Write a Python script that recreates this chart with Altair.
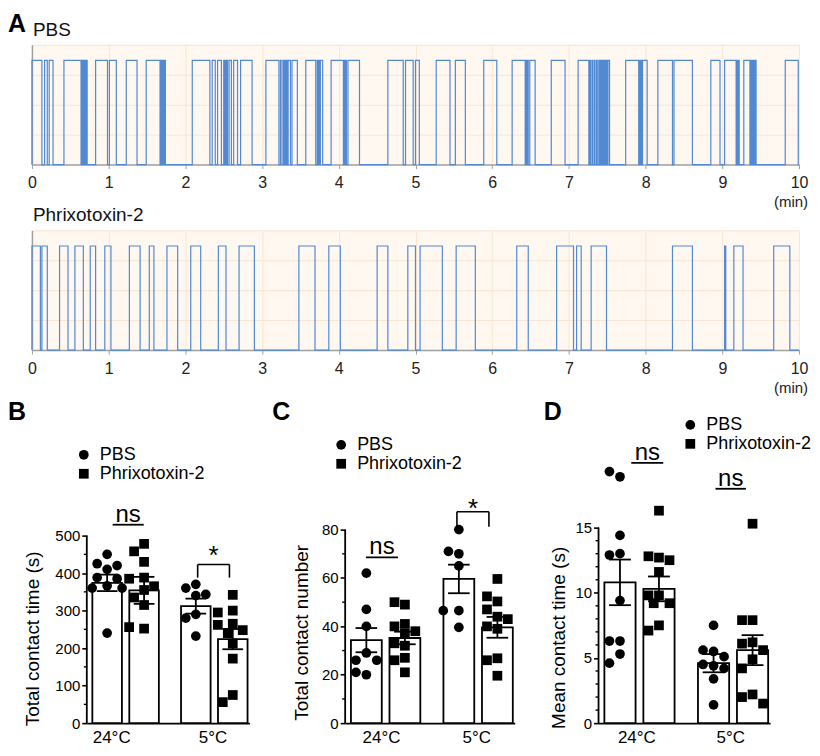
import altair as alt
import pandas as pd

FONT = "Liberation Sans"
TRACE_BLUE = "#5289D3"
GRID = "#FBE4D0"
BG = "#FFF8F1"
AXIS_GREY = "#A0A0A0"

# ---------------- Panel A: contact traces (start, end) in minutes ----------------
MINUTES = list(range(0, 11))
PBS_CONTACTS = [
    (0.00, 0.13), (0.165, 0.20), (0.225, 0.275), (0.417, 0.64),
    (0.645, 0.655), (0.665, 0.675), (0.685, 0.695), (0.70, 0.71), (0.713, 0.72),
    (0.83, 0.985), (1.01, 1.10), (1.23, 1.37), (1.49, 1.67),
    (1.675, 1.685), (1.695, 1.705), (1.715, 1.725), (1.73, 1.74),
    (2.09, 2.32), (2.35, 2.39), (2.42, 2.47), (2.50, 2.51), (2.52, 2.53), (2.54, 2.55),
    (2.57, 2.60), (2.63, 2.68), (2.72, 2.87),
    (3.05, 3.22), (3.24, 3.26), (3.28, 3.29), (3.30, 3.31), (3.32, 3.33), (3.34, 3.37), (3.39, 3.46),
    (3.57, 3.70), (3.72, 3.73), (3.74, 3.75), (3.76, 3.79),
    (3.90, 4.06), (4.07, 4.08), (4.09, 4.10), (4.12, 4.27),
    (4.64, 4.84), (4.87, 4.97), (5.00, 5.05),
    (5.27, 5.45), (5.52, 5.65), (5.89, 6.06),
    (6.26, 6.43), (6.44, 6.45), (6.46, 6.47), (6.49, 6.56),
    (6.77, 6.95), (7.12, 7.26), (7.27, 7.28), (7.30, 7.31), (7.33, 7.34), (7.36, 7.37),
    (7.39, 7.40), (7.405, 7.415), (7.42, 7.43), (7.435, 7.445), (7.45, 7.46), (7.465, 7.475),
    (7.48, 7.49), (7.495, 7.505), (7.51, 7.53),
    (7.74, 7.91), (7.92, 7.93), (7.94, 7.95), (7.96, 8.02),
    (8.16, 8.35), (8.37, 8.61), (8.85, 8.97),
    (9.03, 9.18), (9.19, 9.20), (9.21, 9.22), (9.28, 9.36),
    (9.37, 9.38), (9.385, 9.395), (9.40, 9.41), (9.415, 9.425), (9.43, 9.44),
    (9.82, 9.99),
]
PHRIX_CONTACTS = [
    (0.00, 0.11), (0.13, 0.20), (0.36, 0.47), (0.56, 0.67), (0.76, 0.83), (0.95, 1.03),
    (1.27, 1.41), (1.53, 1.59), (1.76, 1.90), (2.07, 2.20), (2.43, 2.53), (2.70, 2.90),
    (3.48, 3.69), (3.87, 4.02), (4.50, 4.64), (4.90, 5.00), (5.06, 5.35), (5.53, 5.78),
    (6.32, 6.47), (6.84, 7.06), (7.10, 7.16), (7.29, 7.49), (8.35, 8.61),
    (9.03, 9.045), (9.15, 9.27), (9.67, 9.88),
]

# ---------------- Panels B-D: individual values, means, SEM ----------------
TREATS = ["PBS", "Phrixotoxin-2"]
TEMPS = ["24°C", "5°C"]

B_PBS_24 = [450, 425, 420, 410, 388, 385, 366, 360, 360, 240]
B_PHX_24 = [478, 458, 430, 388, 385, 365, 355, 335, 315, 252, 256]
B_PBS_5 = [370, 360, 343, 340, 290, 280, 232]
B_PHX_5 = [342, 300, 295, 265, 262, 248, 240, 212, 172, 75, 56]
B_MEAN = [374, 354, 312, 224]
B_SEM = [22, 36, 20, 27]

C_PBS_24 = [62, 47, 40, 29, 26, 26, 20, 21]
C_PHX_24 = [49, 50, 41, 40, 38, 37, 33, 32, 27, 26, 21]
C_PBS_5 = [80, 70, 71, 65, 46.5, 46.5, 39.6]
C_PHX_5 = [59.6, 50.3, 52.4, 47, 44, 43, 40, 39, 26.8, 26, 19.6]
C_MEAN = [34.3, 35.2, 59.6, 39.6]
C_SEM = [5.0, 2.6, 5.9, 4.3]

D_PBS_24 = [18.9, 19.3, 14.4, 13.0, 12.9, 9.4, 6.3, 6.3, 5.3, 4.6]
D_PHX_24 = [16.3, 12.7, 12.8, 12.5, 11.6, 9.8, 9.8, 9.2, 9.2, 7.5, 7.1]
D_PBS_5 = [7.5, 5.5, 5.6, 5.1, 4.4, 4.5, 4.2, 3.4, 1.4]
D_PHX_5 = [15.3, 7.9, 7.9, 6.2, 6.1, 5.6, 4.9, 4.2, 2.2, 2.0, 1.5]
D_MEAN = [10.8, 10.3, 4.6, 5.6]
D_SEM = [1.75, 0.95, 0.7, 1.15]


# ---------------- trace panels ----------------
def trace_chart(intervals, name, letter=None):
    rows = []
    for s, e in intervals:
        rows += [(s, 0), (s, 1), (e, 1), (e, 0)]
    rows.append((10.0, 0))
    df = pd.DataFrame(rows, columns=["t", "v"])
    df["i"] = range(len(df))
    line = alt.Chart(df).mark_line(color=TRACE_BLUE, strokeWidth=1.2).encode(
        x=alt.X("t:Q", scale=alt.Scale(domain=[0, 10], nice=False),
                axis=alt.Axis(values=MINUTES, format="d", title=None, grid=True, gridColor=GRID,
                              domainColor=AXIS_GREY, domainWidth=1.5, tickColor=AXIS_GREY, tickSize=4,
                              labelFontSize=16, labelColor="#222", labelPadding=6, labelFlush=False)),
        y=alt.Y("v:Q", scale=alt.Scale(domain=[0, 1.15], nice=False),
                axis=alt.Axis(values=[0, 0.2875, 0.575, 0.8625, 1.15], labels=False, ticks=False,
                              title=None, grid=True, gridColor=GRID, domainColor=AXIS_GREY, domainWidth=1.5)),
        order="i:Q",
    )
    title = alt.Chart(pd.DataFrame({"s": [name]})).mark_text(
        align="left", baseline="middle", fontSize=19, color="#111").encode(
        text="s:N", x=alt.value(1), y=alt.value(-15))
    unit = alt.Chart(pd.DataFrame({"s": ["(min)"]})).mark_text(
        align="right", baseline="middle", fontSize=15, color="#222").encode(
        text="s:N", x=alt.value(778), y=alt.value(158))
    layers = [line, title, unit]
    if letter:
        layers.append(alt.Chart(pd.DataFrame({"s": [letter]})).mark_text(
            align="left", baseline="top", fontSize=25, fontWeight="bold", color="black").encode(
            text="s:N", x=alt.value(-24), y=alt.value(-33)))
    return alt.layer(*layers).properties(width=769, height=120, view=alt.ViewBackground(fill=BG))


# ---------------- bar panels ----------------
POS = [0.55, 1.55, 2.95, 3.95]
HALF = 0.4
CAP = 0.28
PANEL_H = 308


def swarm(vals, xpx, ypx, step=0.27):
    placed, offs = [], []
    cands = [0, -step, step, -step / 2, step / 2, -1.5 * step, 1.5 * step]
    for v in vals:
        best, bestd = 0, -1
        for c in cands:
            d = min([(((c - pc) * xpx) ** 2 + ((v - pv) * ypx) ** 2) ** 0.5 for pc, pv in placed] or [1e9])
            if d >= 10.5:
                best = c
                break
            if d > bestd:
                best, bestd = c, d
        placed.append((best, v))
        offs.append(best)
    return offs


def bar_panel(letter, letter_x, ytitle, groups, means, sems, ymax, major, minor, axis_top,
              width, label_pos, title_xy, legend_xy, ns_list, star):
    xpx = width / 4.4
    ypx = PANEL_H / ymax
    prow = []
    for gi, vals in enumerate(groups):
        offs = swarm(vals, xpx, ypx)
        for v, o in zip(vals, offs):
            prow.append({"treat": TREATS[gi % 2], "value": v, "xp": POS[gi] + o})
    pts = pd.DataFrame(prow)
    bars = pd.DataFrame({"pos": POS, "mean": means, "sem": sems})
    bars["x1"] = bars["pos"] - HALF
    bars["x2"] = bars["pos"] + HALF
    bars["c1"] = bars["pos"] - CAP
    bars["c2"] = bars["pos"] + CAP
    bars["lo"] = bars["mean"] - bars["sem"]
    bars["hi"] = bars["mean"] + bars["sem"]
    bars["zero"] = 0

    xscale = alt.Scale(domain=[0, 4.4], nice=False, zero=False)
    yscale = alt.Scale(domain=[0, ymax], nice=False)
    majors = list(range(0, axis_top + 1, major))
    labexpr = "datum.value < 2 ? '%s' : '%s'" % (TEMPS[0], TEMPS[1])

    bar_layer = alt.Chart(bars).mark_rect(fill="white", stroke="black", strokeWidth=1.8).encode(
        x=alt.X("x1:Q", scale=xscale,
                axis=alt.Axis(values=label_pos, labelExpr=labexpr, ticks=False, tickSize=0, grid=False,
                              domainColor="black", domainWidth=1.8, labelFontSize=17, labelColor="black",
                              labelPadding=6, labelFlush=False, title=None)),
        x2="x2:Q",
        y=alt.Y("zero:Q", scale=yscale,
                axis=alt.Axis(values=majors, domain=False, grid=False, tickColor="black", tickWidth=1.6,
                              tickSize=5, labelFontSize=15, labelColor="black", labelPadding=2,
                              title=ytitle, titleFontSize=19, titleFontWeight="normal", titleColor="black",
                              titleX=title_xy[0], titleY=title_xy[1], titleBaseline="middle",
                              titleAlign="center", titleAngle=270)),
        y2="mean:Q",
    )
    point_layer = alt.Chart(pts).mark_point(filled=True, size=95, opacity=1, color="black").encode(
        x="xp:Q", y="value:Q",
        shape=alt.Shape("treat:N", scale=alt.Scale(domain=TREATS, range=["circle", "square"]),
                        legend=alt.Legend(orient="none", legendX=legend_xy[0], legendY=legend_xy[1],
                                          title=None, labelFontSize=18, labelColor="black",
                                          symbolSize=95, symbolFillColor="black", symbolStrokeColor="black",
                                          symbolStrokeWidth=0, rowPadding=1, padding=0, labelOffset=7)),
    )
    err = alt.Chart(bars).mark_rule(color="black", strokeWidth=1.8).encode(x="pos:Q", y="lo:Q", y2="hi:Q")
    cap_hi = alt.Chart(bars).mark_rule(color="black", strokeWidth=1.8).encode(x="c1:Q", x2="c2:Q", y="hi:Q")
    cap_lo = alt.Chart(bars).mark_rule(color="black", strokeWidth=1.8).encode(x="c1:Q", x2="c2:Q", y="lo:Q")
    yline = alt.Chart(pd.DataFrame({"y0": [0], "y1": [axis_top]})).mark_rule(
        color="black", strokeWidth=1.8).encode(x=alt.value(0), y="y0:Q", y2="y1:Q")
    minors = [m for m in range(0, axis_top + 1, minor) if m % major != 0]
    minor_ticks = alt.Chart(pd.DataFrame({"m": minors})).mark_rule(
        color="black", strokeWidth=1.4).encode(y="m:Q", x=alt.value(-3), x2=alt.value(0))

    ns_df = pd.DataFrame(ns_list, columns=["a", "b", "y"])
    ns_df["mid"] = (ns_df["a"] + ns_df["b"]) / 2
    ns_df["t"] = "ns"
    ns_line = alt.Chart(ns_df).mark_rule(color="black", strokeWidth=1.8).encode(x="a:Q", x2="b:Q", y="y:Q")
    ns_text = alt.Chart(ns_df).mark_text(fontSize=24, baseline="alphabetic", dy=-3, color="black").encode(
        x="mid:Q", y="y:Q", text="t:N")

    layers = [bar_layer, point_layer, err, cap_hi, cap_lo, yline, minor_ticks, ns_line, ns_text]
    if star:
        a, b, top, bot, sdy = star
        br = pd.DataFrame({"a": [a], "b": [b], "top": [top], "bot": [bot], "mid": [(a + b) / 2], "t": ["*"]})
        layers += [
            alt.Chart(br).mark_rule(color="black", strokeWidth=1.6).encode(x="a:Q", x2="b:Q", y="top:Q"),
            alt.Chart(br).mark_rule(color="black", strokeWidth=1.6).encode(x="a:Q", y="top:Q", y2="bot:Q"),
            alt.Chart(br).mark_rule(color="black", strokeWidth=1.6).encode(x="b:Q", y="top:Q", y2="bot:Q"),
            alt.Chart(br).mark_text(fontSize=26, baseline="alphabetic", dy=sdy, color="black").encode(
                x="mid:Q", y="top:Q", text="t:N"),
        ]
    layers.append(alt.Chart(pd.DataFrame({"s": [letter]})).mark_text(
        align="left", baseline="top", fontSize=25, fontWeight="bold", color="black").encode(
        text="s:N", x=alt.value(letter_x), y=alt.value(-16)))
    return alt.layer(*layers).properties(width=width, height=PANEL_H)


pB = bar_panel("B", -79, "Total contact time (s)", [B_PBS_24, B_PHX_24, B_PBS_5, B_PHX_5], B_MEAN, B_SEM,
               819.1, 100, 50, 500, 163, [0.66, 3.4], (-54, 223), (-12, 30),
               [(0.70, 1.54, 529)], (3.0, 3.86, 423, 388, 0))
pC = bar_panel("C", -73, "Total contact number", [C_PBS_24, C_PHX_24, C_PBS_5, C_PHX_5], C_MEAN, C_SEM,
               127.0, 20, 10, 80, 170, [0.93, 3.4], (-44, 217), (-13, 20),
               [(0.54, 1.37, 68.5)], (2.9, 3.73, 87.4, 81.2, 5))
pD = bar_panel("D", -55, "Mean contact time (s)", [D_PBS_24, D_PHX_24, D_PBS_5, D_PHX_5], D_MEAN, D_SEM,
               23.57, 5, 1, 15, 172, [0.97, 3.38], (-40, 222), (83, 0),
               [(0.84, 1.66, 19.97), (3.0, 3.78, 17.98)], None)


def spacer(w):
    return alt.Chart(pd.DataFrame({"a": [0]})).mark_point(opacity=0).encode(
        x=alt.value(0), y=alt.value(0)).properties(width=w, height=PANEL_H)


def ind(c):
    return c.resolve_scale(x="independent", y="independent", shape="independent").resolve_legend(
        shape="independent").resolve_axis(x="independent", y="independent")


GAP = 10
# plot-area left edges: B at +55, C at +314, D at +568 from the trace panels' left edge
row = ind(alt.hconcat(spacer(55 - GAP), pB, spacer(96 - 2 * GAP), pC, spacer(84 - 2 * GAP), pD,
                      spacing=GAP, bounds="flush"))

traceA = trace_chart(PBS_CONTACTS, "PBS", "A")
traceB = trace_chart(PHRIX_CONTACTS, "Phrixotoxin-2")

chart = ind(alt.vconcat(traceA, traceB, row, spacing=66, bounds="flush",
                        padding={"top": 3, "left": 0, "right": 0, "bottom": 0})).configure_view(
    strokeWidth=0).configure_axis(labelFont=FONT, titleFont=FONT).configure_text(
    font=FONT).configure_legend(labelFont=FONT)

chart.save("out.html", embed_options={"renderer": "svg", "actions": False})
